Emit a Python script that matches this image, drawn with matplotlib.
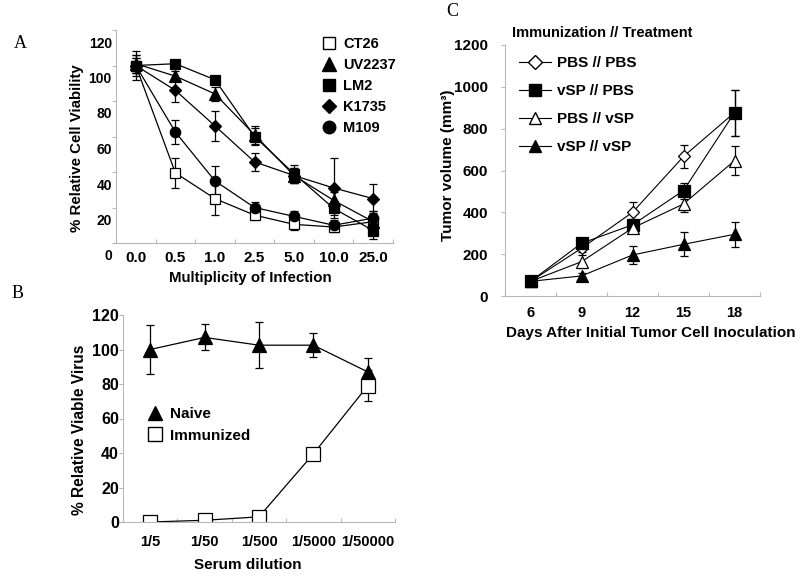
import matplotlib
matplotlib.use("Agg")
import matplotlib.pyplot as plt
import matplotlib.transforms as mtransforms
from matplotlib.lines import Line2D
import numpy as np

plt.rcParams['font.family'] = ['Liberation Sans', 'DejaVu Sans']
plt.rcParams['font.weight'] = 'bold'
plt.rcParams['axes.labelweight'] = 'bold'

# ---------------- Panel A data ----------------
moi_labels = ["0.0", "0.5", "1.0", "2.5", "5.0", "10.0", "25.0"]
ct26 = [100, 39.5, 25, 15.7, 10.5, 9, 12]
ct26_err = [4, 8.5, 9, 3, 3, 3, 3]
uv2237 = [101, 94, 84, 61, 38, 24, 12]
uv2237_err = [5, 3, 4, 5, 4, 5, 6]
lm2 = [100, 101, 92, 60, 39, 19.5, 7]
lm2_err = [6, 2, 2, 5, 5, 4, 5]
k1735 = [100, 86, 66, 45.7, 38, 31, 25]
k1735_err = [8, 6.5, 8.5, 5, 4, 17, 8]
m109 = [100, 62.5, 35, 20, 15, 10, 14]
m109_err = [4, 7, 8.5, 3, 3, 3, 4]

# ---------------- Panel B data ----------------
dilution_labels = ["1/5", "1/50", "1/500", "1/5000", "1/50000"]
naive = [100, 107, 102.5, 102.5, 87]
naive_err = [14, 7.5, 13.5, 7, 8]
immunized = [0, 1, 3, 39.5, 79]
immunized_err = [0, 0, 0, 0, 9]

# ---------------- Panel C data ----------------
days = ["6", "9", "12", "15", "18"]
pbs_pbs = [70, 228, 400, 667, 877]
pbs_pbs_err = [10, 20, 50, 55, 110]
vsp_pbs = [70, 252, 340, 504, 877]
vsp_pbs_err = [10, 20, 30, 38, 110]
pbs_vsp = [70, 164, 325, 440, 647]
pbs_vsp_err = [10, 30, 25, 40, 68]
vsp_vsp = [70, 96, 196, 247, 295]
vsp_vsp_err = [10, 15, 45, 58, 60]

W, H = 800, 577
fig = plt.figure(figsize=(W / 100, H / 100), dpi=100)


def px_axes(left, top, right, bottom):
    return fig.add_axes([left / W, 1 - bottom / H, (right - left) / W, (bottom - top) / H])


GREY = '#b8b8b8'


def style_axes(ax, n, ylim, yticks, xfs, yfs, xpad, ypad):
    ax.set_xlim(-0.5, n - 0.5)
    ax.set_ylim(*ylim)
    for s in ['top', 'right']:
        ax.spines[s].set_visible(False)
    for s in ['left', 'bottom']:
        ax.spines[s].set_color(GREY)
        ax.spines[s].set_linewidth(0.8)
    ax.set_xticks(np.arange(-0.5, n, 1.0))
    ax.set_xticklabels([])
    ax.tick_params(axis='x', which='major', direction='in', length=3, color=GREY, width=0.8)
    ax.set_xticks(np.arange(n), minor=True)
    ax.tick_params(axis='x', which='minor', length=0, pad=xpad, labelsize=xfs)
    ax.set_yticks(yticks)
    ax.tick_params(axis='y', direction='out', length=3, color=GREY, width=0.8,
                   pad=ypad, labelsize=yfs)


def eb(ax, y, err, marker, ms, mfc, lw=0.9):
    ax.errorbar(np.arange(len(y)), y, yerr=err, color='black', lw=lw, marker=marker,
                ms=ms, mfc=mfc, mec='black', mew=0.9, ecolor='black', elinewidth=0.9,
                capsize=3, capthick=0.9)


# ================= Panel A =================
axA = px_axes(116, 30, 393, 243)
style_axes(axA, 7, (0, 120), np.arange(0, 121, 20), 11, 10, 6, 0)
axA.set_xticklabels(moi_labels, minor=True)
off = mtransforms.ScaledTranslation(0, -12 / 100, fig.dpi_scale_trans)
for lab in axA.get_yticklabels():
    lab.set_transform(lab.get_transform() + off)
eb(axA, ct26, ct26_err, 's', 7.5, 'white')
eb(axA, uv2237, uv2237_err, '^', 8, 'black')
eb(axA, lm2, lm2_err, 's', 7.5, 'black')
eb(axA, k1735, k1735_err, 'D', 6.5, 'black')
eb(axA, m109, m109_err, 'o', 7.5, 'black')
axA.set_ylabel('% Relative Cell Viability', fontsize=10.8)
axA.yaxis.set_label_coords((77 - 116) / 277, (243 - 148) / 213)
axA.yaxis.label.set_va('center')
axA.set_xlabel('Multiplicity of Infection', fontsize=10.8)
axA.xaxis.set_label_coords((250 - 116) / 277, (243 - 278) / 213)
axA.xaxis.label.set_va('center')
legA = [Line2D([], [], ls='none', marker=m, ms=s, mfc=f, mec='black', color='black')
        for m, s, f in [('s', 9, 'white'), ('^', 9.5, 'black'), ('s', 9, 'black'),
                        ('D', 7.5, 'black'), ('o', 9, 'black')]]
axA.legend(legA, ['CT26', 'UV2237', 'LM2', 'K1735', 'M109'], loc='upper left',
           bbox_to_anchor=((322 - 116) / 277, (243 - 37) / 213), frameon=False,
           handlelength=1.0, handletextpad=0.45, labelspacing=0.48, borderpad=0,
           borderaxespad=0, prop={'size': 10.5, 'weight': 'bold'})

# ================= Panel B =================
axB = px_axes(123, 315, 395, 522)
style_axes(axB, 5, (0, 120), np.arange(0, 121, 20), 10.5, 11.5, 9, 0)
axB.set_xticklabels(dilution_labels, minor=True)
eb(axB, naive, naive_err, '^', 10, 'black')
eb(axB, immunized, immunized_err, 's', 10, 'white')
axB.set_ylabel('% Relative Viable Virus', fontsize=11.2)
axB.yaxis.set_label_coords((80 - 123) / 272, (522 - 430) / 207)
axB.yaxis.label.set_va('center')
axB.set_xlabel('Serum dilution', fontsize=11)
axB.xaxis.set_label_coords((248 - 123) / 272, (522 - 565) / 207)
axB.xaxis.label.set_va('center')
legB = [Line2D([], [], ls='none', marker='^', ms=10, mfc='black', mec='black'),
        Line2D([], [], ls='none', marker='s', ms=10, mfc='white', mec='black')]
axB.legend(legB, ['Naive', 'Immunized'], loc='upper left',
           bbox_to_anchor=((147 - 123) / 272, (522 - 407) / 207), frameon=False,
           handlelength=1.0, handletextpad=0.5, labelspacing=0.5, borderpad=0,
           borderaxespad=0, prop={'size': 11, 'weight': 'bold'})

# ================= Panel C =================
axC = px_axes(505, 45, 760, 296)
style_axes(axC, 5, (0, 1200), np.arange(0, 1201, 200), 10.5, 11, 7, 9)
axC.set_xticklabels(days, minor=True)
eb(axC, pbs_pbs, pbs_pbs_err, 'D', 6.5, 'white', lw=0.8)
eb(axC, vsp_pbs, vsp_pbs_err, 's', 8.5, 'black', lw=0.8)
eb(axC, pbs_vsp, pbs_vsp_err, '^', 9, 'white', lw=0.8)
eb(axC, vsp_vsp, vsp_vsp_err, '^', 9, 'black', lw=0.8)
axC.set_ylabel('Tumor volume (mm³)', fontsize=11)
axC.yaxis.set_label_coords((448 - 505) / 255, (296 - 165) / 251)
axC.yaxis.label.set_va('center')
axC.set_xlabel('Days After Initial Tumor Cell Inoculation', fontsize=11)
axC.xaxis.set_label_coords((651 - 505) / 255, (296 - 333) / 251)
axC.xaxis.label.set_va('center')
legC = [Line2D([], [], color='black', lw=0.8, marker=m, ms=s, mfc=f, mec='black')
        for m, s, f in [('D', 7, 'white'), ('s', 8.5, 'black'), ('^', 9, 'white'),
                        ('^', 9, 'black')]]
axC.legend(legC, ['PBS // PBS', 'vSP // PBS', 'PBS // vSP', 'vSP // vSP'],
           loc='upper left', bbox_to_anchor=((519 - 505) / 255, (296 - 56) / 251),
           frameon=False, handlelength=2.1, handletextpad=0.4, labelspacing=0.92,
           borderpad=0, borderaxespad=0, prop={'size': 11, 'weight': 'bold'})
axC.text((512 - 505) / 255, (296 - 33) / 251, 'Immunization // Treatment',
         transform=axC.transAxes, fontsize=10.5, fontweight='bold', va='center', ha='left')

# panel letters
serif = ['Liberation Serif', 'DejaVu Serif']
fig.text(14 / W, 1 - 43 / H, 'A', family=serif, weight='normal', fontsize=13, va='center')
fig.text(12 / W, 1 - 293 / H, 'B', family=serif, weight='normal', fontsize=13, va='center')
fig.text(446 / W, 1 - 12 / H, 'C', family=serif, weight='normal', fontsize=13, va='center')

fig.savefig('out.png', dpi=100)
